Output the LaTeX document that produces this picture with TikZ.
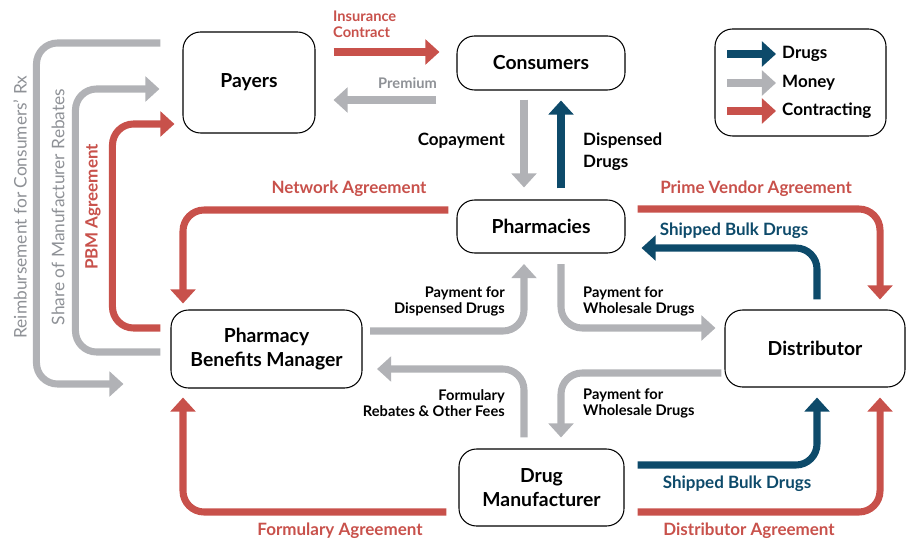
\documentclass[tikz,border=0pt]{standalone}
\usepackage{fontspec}
\setmainfont{Lato}
\usetikzlibrary{positioning,arrows.meta,calc}
\definecolor{contract}{HTML}{C8514B}
\definecolor{money}{HTML}{B1B2B6}
\definecolor{drugs}{HTML}{0D4A6A}
\definecolor{moneytext}{HTML}{8E9196}
\tikzset{
  party/.style={draw=black,line width=0.9pt,rounded corners=15pt,fill=white,align=center,
                font=\fontsize{16.5}{20.5}\selectfont\bfseries},
  lbl/.style={font=\fontsize{12.5}{13.6}\selectfont\bfseries,inner sep=0pt},
  blbl/.style={font=\fontsize{14.5}{18.7}\selectfont\bfseries,inner sep=0pt},
  vlbl/.style={font=\fontsize{14.8}{17}\selectfont,inner sep=0pt,rotate=90},
  flow/.style={line width=6pt,rounded corners=18pt,-{Triangle[length=12pt,width=21pt]}},
  cflow/.style={flow,draw=contract},
  mflow/.style={flow,draw=money},
  dflow/.style={flow,draw=drugs}
}

\begin{document}
\begin{tikzpicture}[x=0.03cm,y=-0.03cm]
  \useasboundingbox (0,0) rectangle (906,540);
  % the parties
  \node[party,minimum width=3.96cm,minimum height=3.03cm] (payers) at (249,82.5) {Payers};
  \node[party,minimum width=5.04cm,minimum height=1.62cm] (cons) at (541,63) {Consumers};
  \node[party,minimum width=5.04cm,minimum height=1.59cm] (pharm) at (541,226.5) {Pharmacies};
  \node[party,minimum width=5.73cm,minimum height=2.34cm] (pbm) at (266.5,349) {Pharmacy\\Benefits Manager};
  \node[party,minimum width=5.4cm,minimum height=2.31cm] (dist) at (815,348.5) {Distributor};
  \node[party,minimum width=4.95cm,minimum height=2.31cm] (mfr) at (541.5,487.5) {Drug\\Manufacturer};

  % legend
  \node[party,minimum width=5.13cm,minimum height=3.21cm] (legend) at (800.5,82.5) {};
  \foreach \y/\c/\t in {54/drugs/Drugs,83/money/Money,111/contract/Contracting}{
    \coordinate (k\y) at (727,\y);
    \draw[flow,draw=\c] (k\y) -- ++(49,0);
    \node[blbl,anchor=west] at (782,\y) {\t};
  }

  % payers and consumers
  \draw[cflow] ($(payers.east)+(18,-30.5)$) -- ($(cons.west)+(-17,-11)$);
  \draw[mflow] ($(cons.west)+(-20,37)$) -- ($(payers.east)+(18,17.5)$);
  \node[lbl,text=contract,anchor=north west,align=left] at (333,11) {Insurance\\Contract};
  \node[lbl,text=moneytext,anchor=east] at (437,83) {Premium};

  % consumers and pharmacies
  \draw[mflow] ($(cons.south)+(-17,9)$) -- ($(pharm.north)+(-17,-12)$);
  \draw[dflow] ($(pharm.north)+(20,-11)$) -- ($(cons.south)+(20,10)$);
  \node[blbl,anchor=east] at (505,141) {Copayment};
  \node[blbl,anchor=west,align=left] at (583,152) {Dispensed\\Drugs};

  % agreements round the middle
  \draw[cflow] ($(pharm.west)+(-8,-16.5)$) -| ($(pbm.north)+(-83.5,-6)$);
  \draw[cflow] ($(pharm.east)+(12,-17.5)$) -| ($(dist.north)+(65,-10)$);
  \draw[cflow] ($(mfr.west)+(-12,24.5)$) -| ($(pbm.south)+(-83.5,9)$);
  \draw[cflow] ($(mfr.east)+(13,24.5)$) -| ($(dist.south)+(65,10)$);
  \node[blbl,text=contract] at (349,189) {Network Agreement};
  \node[blbl,text=contract] at (756,189) {Prime Vendor Agreement};
  \node[blbl,text=contract] at (340,531) {Formulary Agreement};
  \node[blbl,text=contract] at (749,531) {Distributor Agreement};

  % bulk drugs
  \draw[dflow] ($(dist.north)+(2,-10)$) |- ($(pharm.east)+(16,21.5)$);
  \draw[dflow] ($(mfr.east)+(13,-22.5)$) -| ($(dist.south)+(2,10)$);
  \node[blbl,text=drugs] at (734,231) {Shipped Bulk Drugs};
  \node[blbl,text=drugs] at (737,484) {Shipped Bulk Drugs};

  % payments in the middle
  \draw[mflow] ($(pbm.east)+(7.5,-18)$) -| ($(pharm.south)+(-17,10.5)$);
  \draw[mflow] ($(pharm.south)+(20,10.5)$) |- ($(dist.west)+(-9,-20.5)$);
  \draw[mflow] ($(mfr.north)+(-17.5,-11)$) |- ($(pbm.east)+(14.5,20)$);
  \draw[mflow] ($(dist.west)+(-3,24.5)$) -| ($(mfr.north)+(19.5,-11)$);
  \node[lbl,anchor=east,align=right] at (505,301) {Payment for\\Dispensed Drugs};
  \node[lbl,anchor=west,align=left] at (583,301) {Payment for\\Wholesale Drugs};
  \node[lbl,anchor=east,align=right] at (505,403) {Formulary\\Rebates \& Other Fees};
  \node[lbl,anchor=west,align=left] at (583,403) {Payment for\\Wholesale Drugs};

  % back to the payers
  \draw[cflow] ($(pbm.west)+(-10,-21)$) -- ++(-48,0) |- ($(payers.west)+(-8,41.5)$);
  \draw[mflow] ($(pbm.west)+(-10,3)$) -- ++(-85,0) |- ($(payers.west)+(-23,6.5)$);
  \draw[mflow] ($(payers.west)+(-22,-39.5)$) -- ++(-124,0) |- ($(pbm.west)+(-47,35)$);
  \node[vlbl,text=moneytext] at (20,207) {Reimbursement for Consumers’ Rx};
  \node[vlbl,text=moneytext] at (58,207) {Share of Manufacturer Rebates};
  \node[vlbl,text=contract,font=\fontsize{14.5}{17}\selectfont\bfseries] at (93,207) {PBM Agreement};
\end{tikzpicture}
\end{document}
